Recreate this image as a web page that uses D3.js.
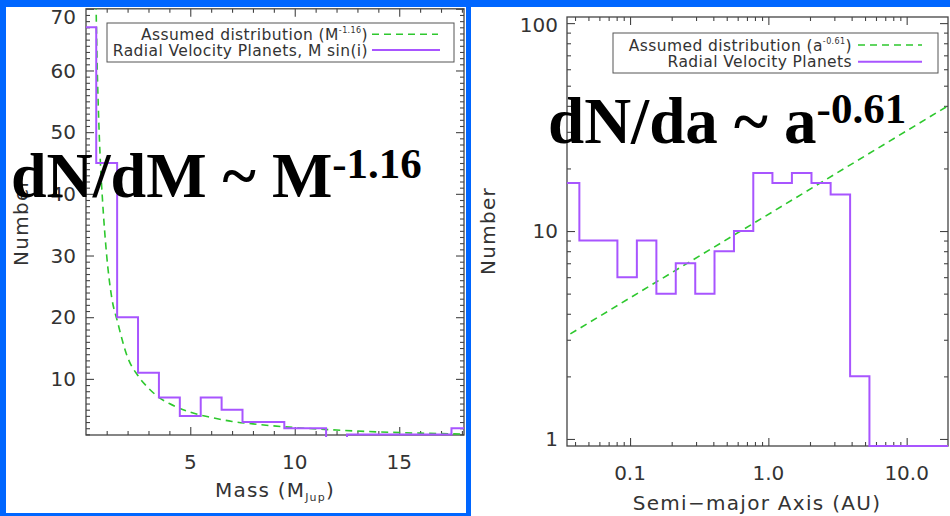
<!DOCTYPE html>
<html><head><meta charset="utf-8">
<script src="https://cdn.jsdelivr.net/npm/d3@7"></script>
<style>
body{margin:0;background:#0066ff;}
svg{display:block}
.lbl{font-family:"DejaVu Sans",sans-serif;fill:#333;}
.big{font-family:"Liberation Serif","Times New Roman",serif;font-weight:bold;fill:#000;}
</style>
</head><body>
<svg id="c" width="950" height="516"></svg>
<script>
// ---------- Data: planet mass histogram (left) ----------
const massEdges  = [0, 0.5, 1.5, 2.5, 3.5, 4.5, 5.5, 6.5, 7.5, 8.5, 9.5, 10.5, 11.5, 12.5, 13.5, 14.5, 15.5, 16.5, 17.5, 18.5];
const massCounts = [67, 45, 20, 11, 7, 4, 7, 5, 3, 3, 2, 2, 0, 1, 1, 1, 1, 1, 2];
const massModelM = [0.49, 0.55, 0.6, 0.7, 0.8, 1.0, 1.25, 1.5, 2, 2.5, 3, 3.5, 4, 5, 6, 7, 8, 10, 12, 14, 16, 18];
const massModelN = [71, 60, 54, 45, 39, 30, 23, 19.5, 13.5, 10.5, 8.5, 7, 6, 4.6, 3.75, 3.1, 2.7, 2.1, 1.7, 1.4, 1.2, 1.05];
const massXTicks = [5, 10, 15];
const massYTicks = [10, 20, 30, 40, 50, 60, 70];
const massXDomain = [0.01, 18.1];
const massYDomain = [0.9, 70];

// ---------- Data: semi-major axis histogram (right) ----------
const smaEdges  = [0.031, 0.043, 0.059, 0.081, 0.112, 0.155, 0.214, 0.296, 0.408, 0.564, 0.778, 1.07, 1.48, 2.05, 2.82, 3.90, 5.38, 7.43, 10.3, 14.2, 19.5, 27];
const smaCounts = [17, 9, 9, 6, 9, 5, 7, 5, 8, 10, 19, 17, 19, 17, 15, 2, 0, 0, 0, 0, 0];
const smaModelA = [0.037, 19.9];
const smaModelN = [3.2, 40];
const smaXTicks = [0.1, 1, 10];
const smaXLabels = ["0.1", "1.0", "10.0"];
const smaYTicks = [1, 10, 100];
const smaXDomain = [0.035, 19.9];
const smaYDomain = [0.925, 107];

const PURPLE = "#a855ff", GREEN = "#2ec82e", AXIS = "#444";

const svg = d3.select("#c");
// white panels
svg.append("rect").attr("x",6).attr("y",7).attr("width",460).attr("height",506).attr("fill","#fff");
svg.append("rect").attr("x",471).attr("y",7).attr("width",479).attr("height",509).attr("fill","#fff");

function frame(g, x, y, xMajor, xMinor, yMajor, yMinor, id){
  const [x0,x1] = x.range(), [y0,y1] = y.range();
  const sides = [
    {ax: ()=>d3.axisTop(x),    t:`translate(0,${y0})`, maj:xMajor, min:xMinor},
    {ax: ()=>d3.axisBottom(x), t:`translate(0,${y1})`, maj:xMajor, min:xMinor},
    {ax: ()=>d3.axisRight(y),  t:`translate(${x0},0)`, maj:yMajor, min:yMinor},
    {ax: ()=>d3.axisLeft(y),   t:`translate(${x1},0)`, maj:yMajor, min:yMinor}
  ];
  sides.forEach(s=>{
    [[s.min,4],[s.maj,8]].forEach(([vals,len])=>{
      const gg = g.append("g").attr("transform", s.t)
        .call(s.ax().tickValues(vals).tickSize(len).tickFormat(""));
      gg.select(".domain").remove();
      gg.selectAll("line").attr("stroke",AXIS).attr("stroke-width",1.1);
    });
  });
  g.append("rect").attr("x",x0).attr("y",y1).attr("width",x1-x0).attr("height",y0-y1)
    .attr("fill","none").attr("stroke",AXIS).attr("stroke-width",1.3);
  g.append("clipPath").attr("id",id).append("rect")
    .attr("x",x0).attr("y",y1).attr("width",x1-x0).attr("height",y0-y1+2);
}

// ================= LEFT PANEL =================
{
  const x = d3.scaleLinear(massXDomain, [86, 464]);
  const y = d3.scaleLinear(massYDomain, [435, 8.8]);
  const g = svg.append("g");
  const xMinor = d3.range(1, 19).filter(v=>v%5!==0);
  const yMinor = d3.range(1, 71).filter(v=>v%10!==0);
  frame(g, x, y, massXTicks, xMinor, massYTicks, yMinor, "clipL");

  const pg = g.append("g").attr("clip-path","url(#clipL)");
  pg.append("path").attr("d", d3.line().x(d=>x(d[0])).y(d=>y(d[1])).curve(d3.curveMonotoneX)(massModelM.map((m,i)=>[m, massModelN[i]])))
    .attr("fill","none").attr("stroke",GREEN).attr("stroke-width",1.6).attr("stroke-dasharray","7,5");
  const pts = massEdges.map((e,i)=>[e, massCounts[Math.min(i,massCounts.length-1)]]);
  pg.append("path").attr("d", d3.line().x(d=>x(d[0])).y(d=>y(d[1])).curve(d3.curveStepAfter)(pts))
    .attr("fill","none").attr("stroke",PURPLE).attr("stroke-width",2);

  // tick labels
  g.selectAll(".yl").data(massYTicks).join("text").attr("class","lbl")
    .attr("x",76).attr("y",d=>Math.max(y(d), 16.8)).attr("dy","0.36em")
    .attr("text-anchor","end").attr("font-size",20).text(d=>d);
  g.selectAll(".xl").data(massXTicks).join("text").attr("class","lbl")
    .attr("x",d=>x(d)).attr("y",469).attr("text-anchor","middle").attr("font-size",20).text(d=>d);
  // axis titles
  const xt = g.append("text").attr("class","lbl").attr("x",275).attr("y",497)
    .attr("text-anchor","middle").attr("font-size",20).attr("letter-spacing",1.2);
  xt.append("tspan").text("Mass (M");
  xt.append("tspan").attr("font-size",11).attr("dy",4).text("Jup");
  xt.append("tspan").attr("dy",-4).text(")");
  g.append("text").attr("class","lbl").attr("transform","translate(28,222) rotate(-90)")
    .attr("text-anchor","middle").attr("font-size",20).attr("letter-spacing",1.3).text("Number");

  // legend
  g.append("rect").attr("x",107).attr("y",23).attr("width",347).attr("height",39)
    .attr("fill","#fff").attr("stroke","#555").attr("stroke-width",1);
  const l1 = g.append("text").attr("class","lbl").attr("x",368).attr("y",40)
    .attr("text-anchor","end").attr("font-size",15.5).attr("letter-spacing",0.4);
  l1.append("tspan").text("Assumed distribution (M");
  l1.append("tspan").attr("font-size",8).attr("dy",-7).text("-1.16");
  l1.append("tspan").attr("dy",7).text(")");
  g.append("text").attr("class","lbl").attr("x",368).attr("y",55.5)
    .attr("text-anchor","end").attr("font-size",15.5).attr("letter-spacing",0.4)
    .text("Radial Velocity Planets, M sin(i)");
  g.append("line").attr("x1",372).attr("x2",438).attr("y1",34.3).attr("y2",34.3)
    .attr("stroke",GREEN).attr("stroke-width",1.6).attr("stroke-dasharray","7,5");
  g.append("line").attr("x1",372).attr("x2",440).attr("y1",50).attr("y2",50)
    .attr("stroke",PURPLE).attr("stroke-width",2);

  // big formula
  const bt = svg.append("text").attr("class","big").attr("x",11).attr("y",197).attr("font-size",64);
  bt.append("tspan").text("dN/dM ~ M");
  bt.append("tspan").attr("font-size",43).attr("dy",-19).text("-1.16");
}

// ================= RIGHT PANEL =================
{
  const x = d3.scaleLog(smaXDomain, [567, 948]);
  const y = d3.scaleLog(smaYDomain, [446, 17]);
  const g = svg.append("g");
  const xMinor = [0.04,0.05,0.06,0.07,0.08,0.09,0.2,0.3,0.4,0.5,0.6,0.7,0.8,0.9,2,3,4,5,6,7,8,9];
  const yMinor = [2,3,4,5,6,7,8,9,20,30,40,50,60,70,80,90];
  frame(g, x, y, smaXTicks, xMinor, smaYTicks, yMinor, "clipR");

  const pg = g.append("g").attr("clip-path","url(#clipR)");
  pg.append("path").attr("d", d3.line().x(d=>x(d[0])).y(d=>y(d[1]))(smaModelA.map((a,i)=>[a, smaModelN[i]])))
    .attr("fill","none").attr("stroke",GREEN).attr("stroke-width",1.6).attr("stroke-dasharray","7,5");
  const ymin = smaYDomain[0];
  const pts = smaEdges.map((e,i)=>[e, Math.max(smaCounts[Math.min(i,smaCounts.length-1)], ymin)]);
  pg.append("path").attr("d", d3.line().x(d=>x(d[0])).y(d=>y(d[1])).curve(d3.curveStepAfter)(pts))
    .attr("fill","none").attr("stroke",PURPLE).attr("stroke-width",2);

  g.selectAll(".yl").data(smaYTicks).join("text").attr("class","lbl")
    .attr("x",558).attr("y",d=>Math.max(y(d), 25)).attr("dy","0.36em")
    .attr("text-anchor","end").attr("font-size",20).text(d=>d);
  g.selectAll(".xl").data(smaXTicks).join("text").attr("class","lbl")
    .attr("x",d=>x(d)).attr("y",480).attr("text-anchor","middle").attr("font-size",20)
    .text((d,i)=>smaXLabels[i]);
  g.append("text").attr("class","lbl").attr("x",757).attr("y",510)
    .attr("text-anchor","middle").attr("font-size",20).attr("letter-spacing",1.3).text("Semi\u2212major Axis (AU)");
  g.append("text").attr("class","lbl").attr("transform","translate(495,231) rotate(-90)")
    .attr("text-anchor","middle").attr("font-size",20).attr("letter-spacing",1.3).text("Number");

  g.append("rect").attr("x",613).attr("y",33).attr("width",325).attr("height",40)
    .attr("fill","#fff").attr("stroke","#555").attr("stroke-width",1);
  const l1 = g.append("text").attr("class","lbl").attr("x",852).attr("y",50.5)
    .attr("text-anchor","end").attr("font-size",15.5).attr("letter-spacing",0.4);
  l1.append("tspan").text("Assumed distribution (a");
  l1.append("tspan").attr("font-size",8).attr("dy",-7).text("-0.61");
  l1.append("tspan").attr("dy",7).text(")");
  g.append("text").attr("class","lbl").attr("x",852).attr("y",67)
    .attr("text-anchor","end").attr("font-size",15.5).attr("letter-spacing",0.4)
    .text("Radial Velocity Planets");
  g.append("line").attr("x1",858).attr("x2",922).attr("y1",45).attr("y2",45)
    .attr("stroke",GREEN).attr("stroke-width",1.6).attr("stroke-dasharray","7,5");
  g.append("line").attr("x1",858).attr("x2",922).attr("y1",61.7).attr("y2",61.7)
    .attr("stroke",PURPLE).attr("stroke-width",2);

  const bt = svg.append("text").attr("class","big").attr("x",548).attr("y",143).attr("font-size",65);
  bt.append("tspan").text("dN/da ~ a");
  bt.append("tspan").attr("font-size",43).attr("dy",-20).text("-0.61");
}
</script>
</body></html>
